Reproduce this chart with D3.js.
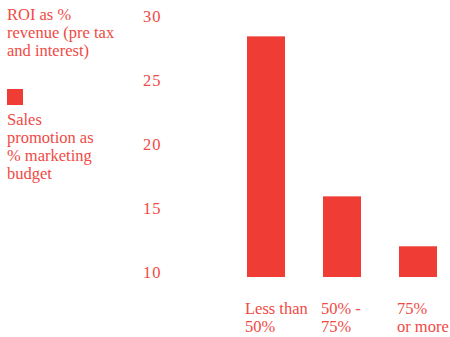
<!DOCTYPE html>
<html>
<head>
<meta charset="utf-8">
<script src="https://cdn.jsdelivr.net/npm/d3@7"></script>
<style>
  html, body { margin: 0; padding: 0; background: #fff; }
  svg { display: block; }
</style>
</head>
<body>
<svg id="chart" width="450" height="337"></svg>
<script>
// Sales promotion share of marketing budget vs. ROI
const categories = ["Less than 50%", "50% - 75%", "75% or more"];
const categoryLines = [["Less than", "50%"], ["50% -", "75%"], ["75%", "or more"]];
const roiValues = [28.8, 16.3, 12.4];
const yTicks = [10, 15, 20, 25, 30];
const axisTitleLines = ["ROI as %", "revenue (pre tax", "and interest)"];
const legendLines = ["Sales", "promotion as", "% marketing", "budget"];

const barColor = "#ef3c34";
const textColor = "#f04a44";
const fontFamily = '"Liberation Serif", "Times New Roman", serif';
const fontSize = 16.5;

const svg = d3.select("#chart");

const y = d3.scaleLinear().domain([10, 30]).range([277, 21]);
const x = d3.scaleBand().domain(categories).range([247, 437])
  .paddingInner(0.5).paddingOuter(0);

function styleText(sel) {
  return sel.style("font-family", fontFamily)
    .style("font-size", fontSize + "px")
    .style("fill", textColor);
}

// value axis: labels only, baseline sits on the value
const yAxis = d3.axisLeft(y).tickValues(yTicks).tickSize(0).tickPadding(0);
const yG = svg.append("g").attr("transform", "translate(143,0)").call(yAxis);
yG.select(".domain").remove();
yG.attr("font-family", null).attr("font-size", null);
yG.selectAll(".tick text")
  .attr("x", 0)
  .attr("dy", null)
  .attr("text-anchor", "start")
  .attr("letter-spacing", 1)
  .call(styleText);

// bars
svg.append("g").selectAll("rect")
  .data(categories)
  .join("rect")
  .attr("x", d => x(d))
  .attr("width", x.bandwidth())
  .attr("y", (d, i) => y(roiValues[i]))
  .attr("height", (d, i) => y(10) - y(roiValues[i]))
  .attr("fill", barColor);

// category labels
const catG = svg.append("g");
categories.forEach((c, i) => {
  const t = catG.append("text").attr("text-anchor", "start").call(styleText);
  categoryLines[i].forEach((line, j) => {
    t.append("tspan").attr("x", x(c) - 2).attr("y", 313.5 + j * 18).text(line);
  });
});

// axis title
const title = svg.append("text").call(styleText);
axisTitleLines.forEach((line, j) => {
  title.append("tspan").attr("x", 7).attr("y", 19.5 + j * 18).text(line);
});

// legend
svg.append("rect").attr("x", 7).attr("y", 89).attr("width", 16).attr("height", 16).attr("fill", barColor);
const legend = svg.append("text").call(styleText);
legendLines.forEach((line, j) => {
  legend.append("tspan").attr("x", 7).attr("y", 125 + j * 18).text(line);
});
</script>
</body>
</html>
